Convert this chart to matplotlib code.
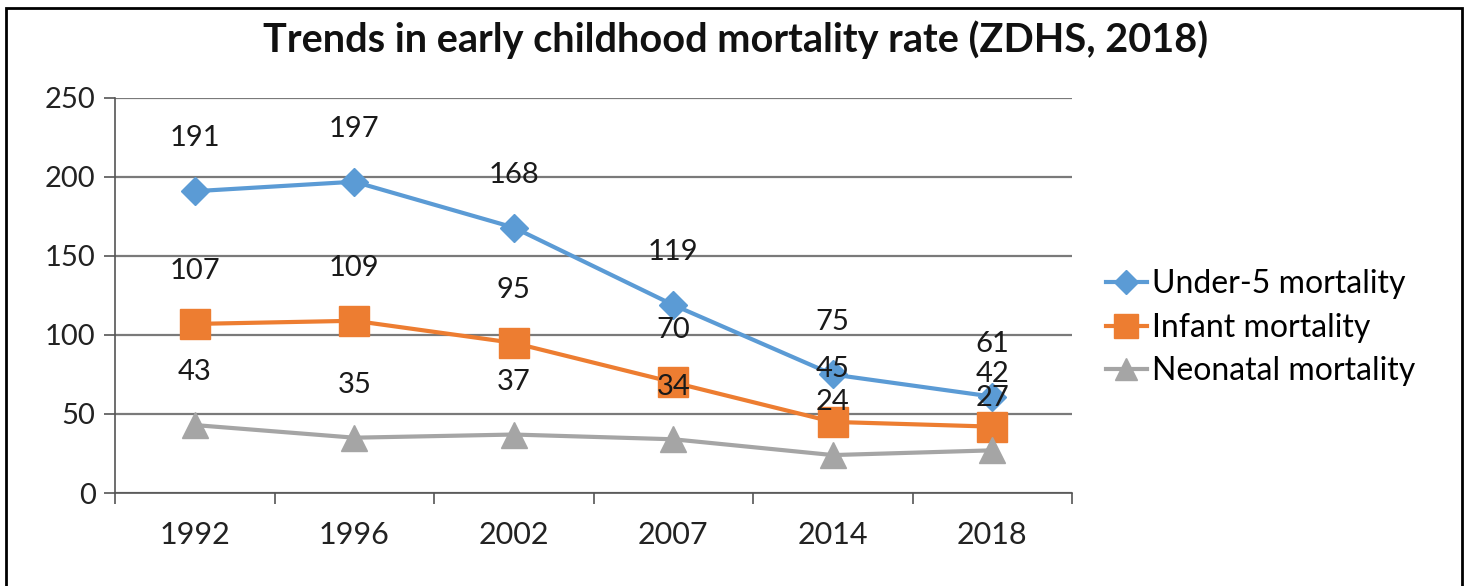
import matplotlib
matplotlib.use("Agg")
import matplotlib.pyplot as plt
from matplotlib.patches import Rectangle

plt.rcParams.update({
    "font.family": ["Lato", "DejaVu Sans"],
    "font.size": 21,
})

years = ["1992", "1996", "2002", "2007", "2014", "2018"]
under5 = [191, 197, 168, 119, 75, 61]
infant = [107, 109, 95, 70, 45, 42]
neonatal = [43, 35, 37, 34, 24, 27]

series = [
    ("Under-5 mortality", under5, "#5B9BD5", "D", 14),
    ("Infant mortality", infant, "#ED7D31", "s", 21),
    ("Neonatal mortality", neonatal, "#A5A5A5", "^", 19),
]

fig = plt.figure(figsize=(14.71, 5.86), dpi=100)
ax = fig.add_axes([0.0782, 0.1587, 0.6506, 0.6741])

x = list(range(len(years)))
for name, vals, col, mk, ms in series:
    ax.plot(x, vals, color=col, lw=3, marker=mk, markersize=ms,
            label=name, zorder=3)
    for xi, v in zip(x, vals):
        ax.annotate(str(v), (xi, v), xytext=(0, 38), textcoords="offset points",
                    ha="center", va="center", fontsize=21, color="#1a1a1a",
                    zorder=5)

ax.set_xlim(-0.5, len(years) - 0.5)
ax.set_ylim(0, 250)
ax.set_yticks(range(0, 251, 50))
ax.set_xticks(x)
ax.set_xticklabels(years, fontsize=22)
ax.set_xticks([i - 0.5 for i in range(len(years) + 1)], minor=True)
ax.tick_params(axis="x", which="major", length=0, pad=20, colors="#222222")
ax.tick_params(axis="x", which="minor", length=8, width=1.2, color="#555555")
ax.tick_params(axis="y", length=8, width=1.2, pad=6, colors="#222222")
ax.tick_params(axis="y", color="#555555")
ax.yaxis.grid(True, color="#7a7a7a", lw=1.6)
ax.set_axisbelow(True)
for s in ["top", "right"]:
    ax.spines[s].set_visible(False)
for s in ["left", "bottom"]:
    ax.spines[s].set_color("#555555")
    ax.spines[s].set_linewidth(1.2)

fig.text(0.5, 0.932, "Trends in early childhood mortality rate (ZDHS, 2018)",
         ha="center", va="center", fontsize=28.5, fontweight="bold",
         color="#111111")

ax.legend(loc="center left", bbox_to_anchor=(1.035, 0.418), frameon=False,
          fontsize=23, handlelength=1.3, handletextpad=0.15, labelspacing=0.42,
          borderaxespad=0, borderpad=0, markerscale=0.85)

fig.add_artist(Rectangle((6 / 1471, -0.05), 1456 / 1471, 1 - 8 / 586 + 0.05,
                         transform=fig.transFigure, fill=False,
                         edgecolor="black", lw=2))

fig.savefig("out.png", dpi=100)
